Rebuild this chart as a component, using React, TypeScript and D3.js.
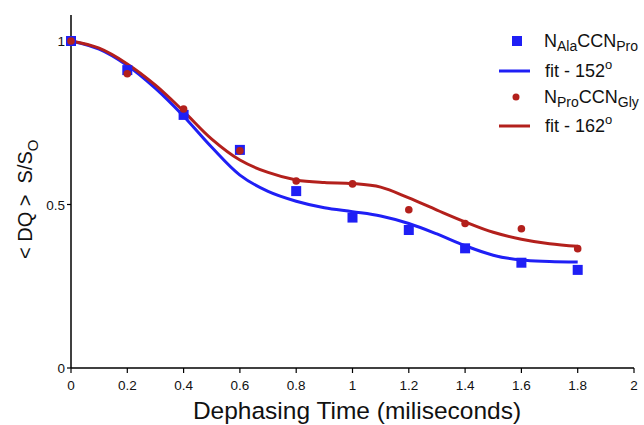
import React from "react";
import * as d3 from "d3";

const times = [0, 0.2, 0.4, 0.6, 0.8, 1.0, 1.2, 1.4, 1.6, 1.8];
const alaValues = [1.0, 0.911, 0.774, 0.667, 0.541, 0.46, 0.422, 0.366, 0.322, 0.3];
const proValues = [1.0, 0.9, 0.792, 0.664, 0.572, 0.563, 0.484, 0.442, 0.426, 0.365];

const fitTimes = [0, 0.1, 0.2, 0.3, 0.4, 0.5, 0.6, 0.7, 0.8, 0.9, 1.0, 1.1, 1.2, 1.3, 1.4, 1.5, 1.6, 1.7, 1.8];
const fit152 = [1.0, 0.975, 0.925, 0.855, 0.77, 0.675, 0.59, 0.54, 0.51, 0.49, 0.478, 0.465, 0.442, 0.41, 0.374, 0.345, 0.33, 0.326, 0.324];
const fit162 = [1.0, 0.978, 0.93, 0.865, 0.785, 0.70, 0.636, 0.598, 0.575, 0.567, 0.564, 0.553, 0.52, 0.483, 0.447, 0.415, 0.394, 0.38, 0.372];

const xTicks = [0, 0.2, 0.4, 0.6, 0.8, 1, 1.2, 1.4, 1.6, 1.8, 2];
const yTicks = [0, 0.5, 1];

const BLUE = "#1f1ff5";
const RED = "#b3201c";
const FONT = "Liberation Sans, Arial, sans-serif";

export default function App() {
  const W = 644, H = 425;
  const x = d3.scaleLinear().domain([0, 2]).range([71, 634]);
  const y = d3.scaleLinear().domain([0, 1]).range([368, 41]);
  const mk = (vals: number[]) =>
    d3.line<number>()
      .x((_, i) => x(fitTimes[i]))
      .y((d) => y(d))
      .curve(d3.curveCatmullRom.alpha(0.5))(vals) || "";

  return (
    <svg width={W} height={H} style={{ position: "absolute", left: 0, top: 0 }} fontFamily={FONT}>
      <rect width={W} height={H} fill="#fff" />
      {/* axes */}
      <line x1={x(0)} x2={x(0)} y1={15} y2={y(0)} stroke="#000" strokeWidth={1.5} />
      <line x1={x(0)} x2={x(2)} y1={y(0)} y2={y(0)} stroke="#000" strokeWidth={1.5} />
      {xTicks.map((t) => (
        <g key={"x" + t}>
          <line x1={x(t)} x2={x(t)} y1={y(0)} y2={y(0) + 5} stroke="#000" strokeWidth={1.2} />
          <text x={x(t)} y={y(0) + 22} fontSize={13.5} textAnchor="middle" fill="#111">{t}</text>
        </g>
      ))}
      {yTicks.map((t) => (
        <g key={"y" + t}>
          <line x1={x(0) - 4} x2={x(0)} y1={y(t)} y2={y(t)} stroke="#000" strokeWidth={1.2} />
          <text x={x(0) - 6} y={y(t) + 5} fontSize={13.5} textAnchor="end" fill="#111">{t}</text>
        </g>
      ))}
      <text x={357} y={419} fontSize={24.5} textAnchor="middle" fill="#111">
        Dephasing Time (miliseconds)
      </text>
      <text transform={`translate(32,259) rotate(-90)`} fontSize={20} textAnchor="start" fill="#111" style={{ whiteSpace: "pre" }}>
        {"< DQ >  S/S"}
        <tspan fontSize={15} dy={6}>O</tspan>
      </text>

      {/* fits */}
      <path d={mk(fit152)} fill="none" stroke={BLUE} strokeWidth={3} />
      <path d={mk(fit162)} fill="none" stroke={RED} strokeWidth={3} />

      {/* points */}
      {alaValues.map((v, i) => (
        <rect key={"a" + i} x={x(times[i]) - 5} y={y(v) - 5} width={10} height={10} fill={BLUE} />
      ))}
      {proValues.map((v, i) => (
        <circle key={"p" + i} cx={x(times[i])} cy={y(v)} r={3.8} fill={RED} />
      ))}

      {/* legend */}
      <rect x={512} y={36} width={10} height={10} fill={BLUE} />
      <text x={544} y={47} fontSize={18} fill="#111">
        N<tspan fontSize={14} dy={4}>Ala</tspan>
        <tspan fontSize={18} dy={-4}>CCN</tspan>
        <tspan fontSize={14} dy={4}>Pro</tspan>
      </text>
      <line x1={499} x2={530} y1={71} y2={71} stroke={BLUE} strokeWidth={3} />
      <text x={545} y={77} fontSize={18} fill="#111">
        fit - 152<tspan fontSize={13} dy={-8}>o</tspan>
      </text>
      <circle cx={516} cy={97} r={3.5} fill={RED} />
      <text x={544} y={103} fontSize={18} fill="#111">
        N<tspan fontSize={14} dy={4}>Pro</tspan>
        <tspan fontSize={18} dy={-4}>CCN</tspan>
        <tspan fontSize={14} dy={4}>Gly</tspan>
      </text>
      <line x1={499} x2={530} y1={126} y2={126} stroke={RED} strokeWidth={3} />
      <text x={545} y={132} fontSize={18} fill="#111">
        fit - 162<tspan fontSize={13} dy={-8}>o</tspan>
      </text>
    </svg>
  );
}
